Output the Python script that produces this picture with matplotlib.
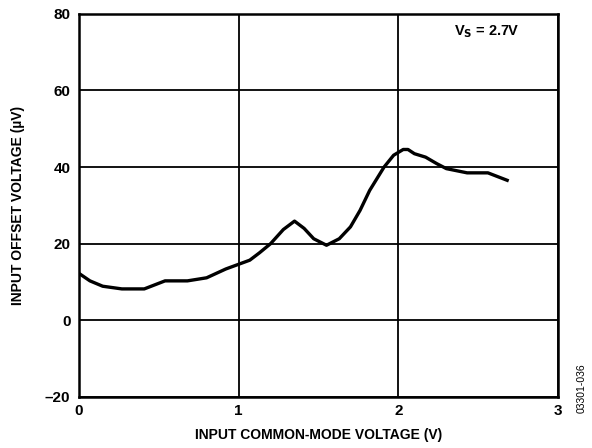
import matplotlib
matplotlib.use("Agg")
import matplotlib.pyplot as plt

plt.rcParams["font.family"] = ["Liberation Sans", "DejaVu Sans"]
plt.rcParams["font.weight"] = "bold"

# ── Dados ────────────────────────────────────────────────────────────────────
vcm = [0.00, 0.07, 0.15, 0.27, 0.41, 0.54, 0.68, 0.80, 0.92, 1.07, 1.13,
       1.20, 1.28, 1.35, 1.41, 1.47, 1.55, 1.63, 1.70, 1.76, 1.82, 1.91,
       1.97, 2.03, 2.06, 2.10, 2.17, 2.24, 2.30, 2.43, 2.56, 2.69]
vos = [12.3, 10.3, 8.9, 8.2, 8.2, 10.3, 10.3, 11.1, 13.4, 15.7, 17.6,
       20.0, 23.7, 25.9, 24.0, 21.3, 19.6, 21.3, 24.4, 28.7, 33.9, 40.0,
       43.1, 44.6, 44.6, 43.5, 42.6, 40.9, 39.6, 38.5, 38.5, 36.4]

x_ticks = [0, 1, 2, 3]
y_ticks = [-20, 0, 20, 40, 60, 80]
y_tick_labels = ["\u201320", "0", "20", "40", "60", "80"]

fig = plt.figure(figsize=(5.92, 4.48), dpi=100)
ax = fig.add_axes([0.133, 0.114, 0.810, 0.855])

ax.plot(vcm, vos, color="black", linewidth=2.4, solid_capstyle="butt")

ax.set_xlim(0, 3)
ax.set_ylim(-20, 80)
ax.set_xticks(x_ticks)
ax.set_yticks(y_ticks)
ax.set_yticklabels(y_tick_labels)
ax.tick_params(length=0, labelsize=11)
ax.tick_params(axis="x", pad=5)
ax.tick_params(axis="y", pad=6)
for lbl in ax.get_xticklabels() + ax.get_yticklabels():
    lbl.set_fontweight("bold")

ax.grid(True, color="black", linewidth=1.3)
for sp in ax.spines.values():
    sp.set_linewidth(1.8)

ax.set_xlabel("INPUT COMMON-MODE VOLTAGE (V)", fontsize=10, fontweight="bold", labelpad=7)
ax.set_ylabel("INPUT OFFSET VOLTAGE (\u00b5V)", fontsize=10, fontweight="bold", labelpad=14)

ax.text(0.918, 0.975, r"V$_\mathbf{S}$ = 2.7V", transform=ax.transAxes,
        ha="right", va="top", fontsize=10.5, fontweight="bold")

fig.text(0.983, 0.078, "03301-036", rotation=90, ha="center", va="bottom",
         fontsize=7.5, fontweight="normal")

fig.savefig("out.png", dpi=100)
